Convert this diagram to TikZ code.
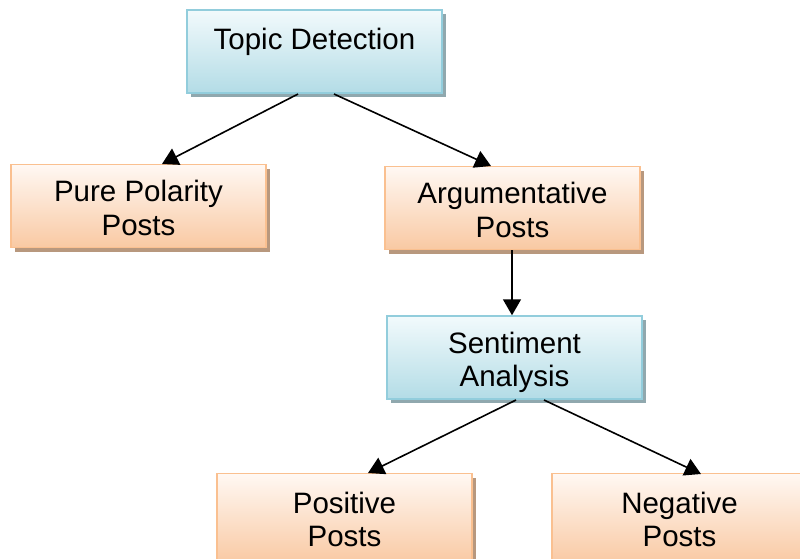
\documentclass[tikz,border=0pt]{standalone}
\usepackage{fontspec}
\setmainfont{Liberation Sans}
\usetikzlibrary{arrows.meta}
\definecolor{bluetop}{HTML}{F2FAFC}
\definecolor{bluebot}{HTML}{B3DCE6}
\definecolor{blueline}{HTML}{92CDDC}
\definecolor{bluesh}{HTML}{90A8AE}
\definecolor{ortop}{HTML}{FFF8F3}
\definecolor{orbot}{HTML}{F9C9A3}
\definecolor{orline}{HTML}{FAC090}
\definecolor{orsh}{HTML}{B8987E}
\tikzset{
  txt/.style={align=center, font=\fontsize{29.5}{33.5}\selectfont, inner sep=0pt},
  basebox/.style={rectangle, minimum width=255pt, minimum height=83pt, inner sep=0pt,
    txt, line width=1.5pt},
  bluebox/.style={basebox, draw=blueline, top color=bluetop, bottom color=bluebot,
    preaction={fill=bluesh, transform canvas={shift={(4pt,-4pt)}}}},
  orbox/.style={basebox, draw=orline, top color=ortop, bottom color=orbot,
    preaction={fill=orsh, transform canvas={shift={(4pt,-4pt)}}}},
  conn/.style={-{Triangle[length=16pt,width=18pt]}, line width=1.6pt, black}
}
\begin{document}
\begin{tikzpicture}[x=1pt,y=-1pt]
\useasboundingbox (0,0) rectangle (800,558);
\node[bluebox, label={[txt, yshift=10pt]center:Topic Detection}] (topic) at (314.5,51.5) {};
\node[orbox, label={[txt, yshift=-2pt]center:Pure Polarity\\Posts}] (pure) at (138.5,206) {};
\node[orbox, label={[txt, yshift=-2pt]center:Argumentative\\Posts}] (arg) at (512.5,208) {};
\node[bluebox, label={[txt, yshift=-5pt]center:Sentiment\\Analysis}] (sent) at (514.5,357.5) {};
\node[orbox, minimum height=90pt, label={[txt, yshift=-1pt]center:Positive\\Posts}] (pos) at (344.5,518.5) {};
\node[orbox, minimum height=90pt, label={[txt, yshift=-1pt]center:Negative\\Posts}] (neg) at (679.5,518.5) {};
\coordinate (t1) at (298,94);
\coordinate (t2) at (334,94);
\coordinate (s1) at (516,400);
\coordinate (s2) at (544,400);
\coordinate (pureIn) at (162,164);
\coordinate (argIn) at (491,166);
\coordinate (posIn) at (368,473);
\coordinate (negIn) at (701,474);
\draw[conn] (t1) -- (pureIn);
\draw[conn] (t2) -- (argIn);
\draw[conn] (arg.south -| 512,0) -- (sent.north -| 512,0);
\draw[conn] (s1) -- (posIn);
\draw[conn] (s2) -- (negIn);
\end{tikzpicture}
\end{document}
